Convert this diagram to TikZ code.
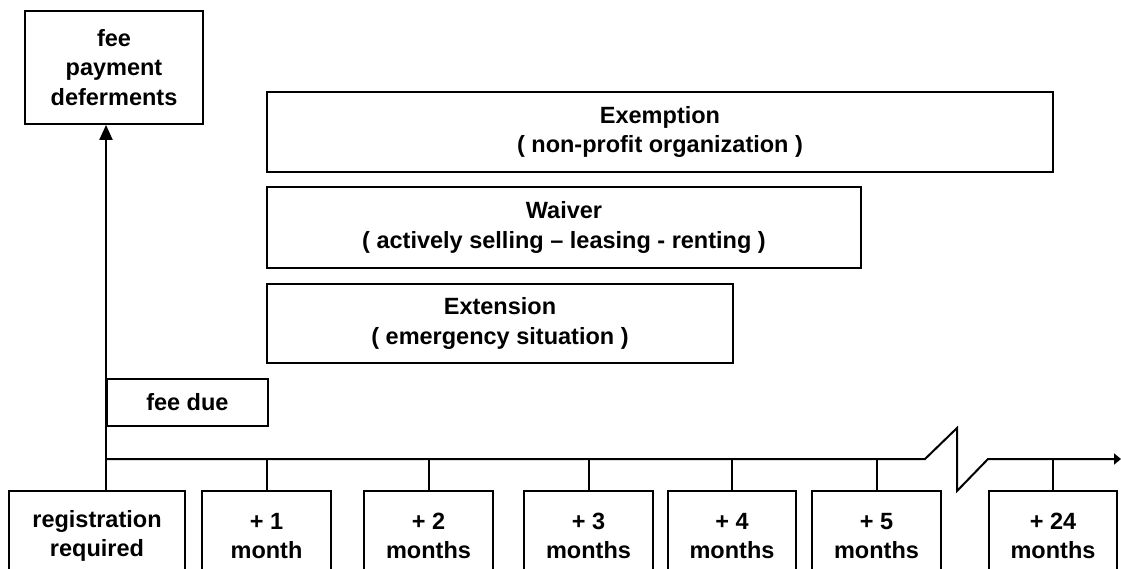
\documentclass[tikz,border=0pt]{standalone}
\usepackage{fontspec}
\setmainfont{Liberation Sans}
\usetikzlibrary{arrows.meta}
\begin{document}
\begin{tikzpicture}[x=1pt,y=-1pt,
  box/.style={draw, line width=1.8pt, inner sep=0pt, align=center,
    font=\fontsize{23.5}{29.5}\selectfont\bfseries},
  conn/.style={line width=2pt},
]
\useasboundingbox (0,0) rectangle (1121,568);
\clip (0,0) rectangle (1121,568);
% top boxes
\node[box, minimum width=178, minimum height=113] (def) at (114,67.5) {fee\\payment\\deferments};
\node[box, minimum width=786, minimum height=80] (exm) at (660,132) {Exemption\\( non-profit organization )};
\node[box, minimum width=594, minimum height=81] (wai) at (564,227.5) {Waiver\\( actively selling -- leasing - renting )};
\node[box, minimum width=466, minimum height=79] (ext) at (500,323.5) {Extension\\( emergency situation )};
\node[box, minimum width=161, minimum height=47, anchor=west] (due) at (106,402.5) {fee due};
% bottom boxes
\node[box, minimum width=176, minimum height=90] (reg) at (97,536) {registration\\required};
\node[box, minimum width=129, minimum height=90] (m1) at (266.5,536) {+ 1\\month};
\node[box, minimum width=129, minimum height=90] (m2) at (428.5,536) {+ 2\\months};
\node[box, minimum width=129, minimum height=90] (m3) at (588.5,536) {+ 3\\months};
\node[box, minimum width=128, minimum height=90] (m4) at (732,536) {+ 4\\months};
\node[box, minimum width=129, minimum height=90] (m5) at (876.5,536) {+ 5\\months};
\node[box, minimum width=128, minimum height=90] (m24) at (1053,536) {+ 24\\months};
% timeline
\coordinate (t0) at (106,459);
\coordinate (b1) at (925,459);
\coordinate (b2) at (957,428);
\coordinate (b3) at (957,491);
\coordinate (b4) at (988,459);
\coordinate (tend) at (1121,459);
\draw[conn, -{Triangle[length=15pt,width=13pt]}] (reg.north -| t0) -- (t0) -- (def.south -| t0);
\draw[conn, -{Triangle[length=7pt,width=11pt]}] (t0) -- (b1) -- (b2) -- (b3) -- (b4) -- (tend);
\foreach \n in {m1,m2,m3,m4,m5,m24}{
  \draw[conn] (\n.north) -- (\n.north |- t0);
}
\end{tikzpicture}
\end{document}
